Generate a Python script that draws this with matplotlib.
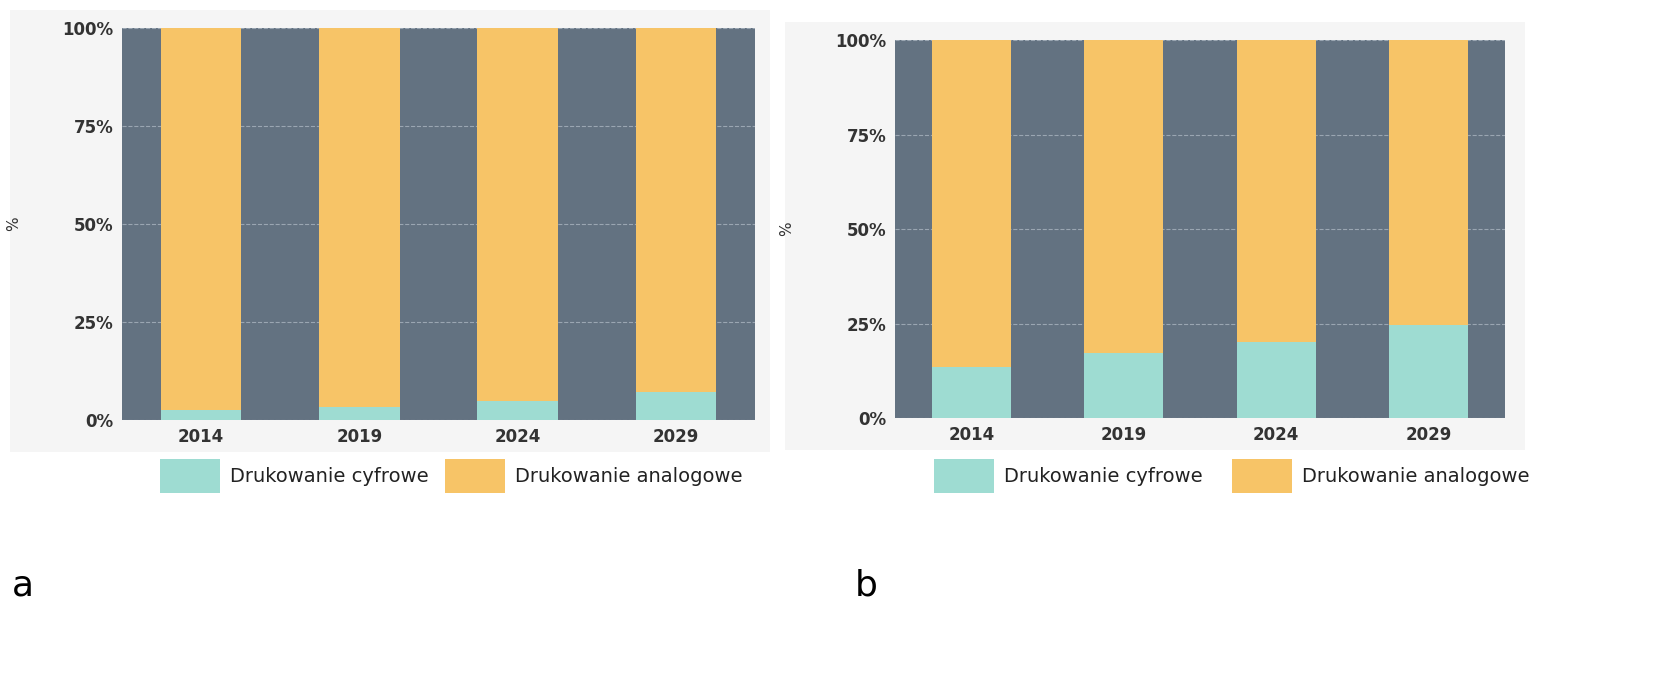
import matplotlib
matplotlib.use("Agg")
import matplotlib.pyplot as plt
from matplotlib.patches import Rectangle

years = ["2014", "2019", "2024", "2029"]
digital_a = [2.6, 3.3, 4.8, 7.1]
digital_b = [13.5, 17.2, 20.1, 24.6]
yticks = [0, 25, 50, 75, 100]
ytick_labels = ["0%", "25%", "50%", "75%", "100%"]

W, H = 1655, 676
fig = plt.figure(figsize=(W/100, H/100), dpi=100)
fig.patch.set_facecolor("white")

TEAL = "#9edcd2"
ORANGE = "#f7c467"
SLATE = "#637281"

def panel(box, axrect, vals, width, legpos, letter):
    bx0, by0, bx1, by1 = box
    fig.patches.append(Rectangle((bx0/W, 1-by1/H), (bx1-bx0)/W, (by1-by0)/H,
                                 transform=fig.transFigure, facecolor="#f5f5f5",
                                 edgecolor="none", zorder=-10))
    x0, y0, x1, y1 = axrect
    ax = fig.add_axes([x0/W, 1-y1/H, (x1-x0)/W, (y1-y0)/H])
    ax.set_zorder(5)
    ax.set_facecolor(SLATE)
    xs = range(len(years))
    analog = [100-v for v in vals]
    ax.bar(xs, vals, width=width, color=TEAL, zorder=3)
    ax.bar(xs, analog, bottom=vals, width=width, color=ORANGE, zorder=3)
    ax.set_xlim(-0.5, len(years)-0.5)
    ax.set_ylim(0, 100)
    ax.set_yticks(yticks)
    ax.set_yticklabels(ytick_labels, fontsize=12, fontweight="bold", color="#333333")
    ax.set_xticks(list(xs))
    ax.set_xticklabels(years, fontsize=12, fontweight="bold", color="#333333")
    ax.grid(axis="y", color="#9aa6b2", linestyle="--", linewidth=0.8, zorder=1)
    ax.set_axisbelow(True)
    ax.tick_params(length=0, pad=6)
    for s in ax.spines.values():
        s.set_visible(False)
    ax.set_ylabel("%", fontsize=11, color="#333333", labelpad=30)
    lx1, lx2, ly = legpos
    for lx, col, txt in [(lx1, TEAL, "Drukowanie cyfrowe"), (lx2, ORANGE, "Drukowanie analogowe")]:
        fig.patches.append(Rectangle((lx/W, 1-(ly+16)/H), 60/W, 34/H,
                                     transform=fig.transFigure, facecolor=col, edgecolor="none"))
        fig.text((lx+70)/W, 1-ly/H, txt, fontsize=14, va="center", color="#222222")
    fig.text(letter[0]/W, 1-letter[1]/H, letter[2], fontsize=26, va="center")

panel((10, 10, 770, 452), (122, 28, 755, 420), digital_a, 0.51, (160, 445, 477), (12, 585, "a"))
panel((785, 22, 1525, 450), (895, 40, 1505, 418), digital_b, 0.52, (934, 1232, 477), (855, 585, "b"))

fig.savefig("out.png", dpi=100)
